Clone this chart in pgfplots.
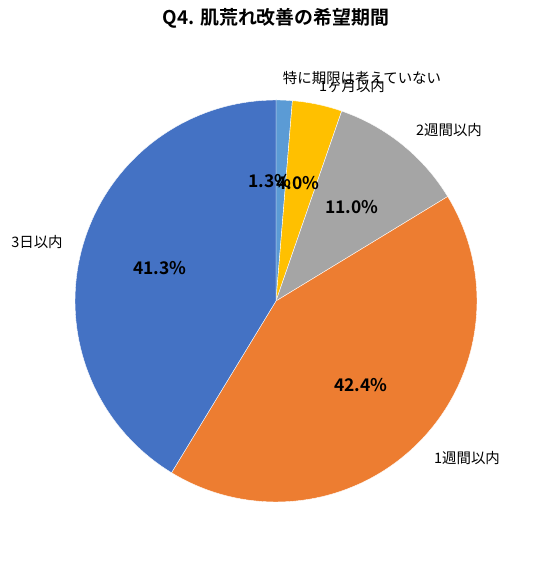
\documentclass[border=0pt]{standalone}
\usepackage{pgfplots}
\pgfplotsset{compat=1.18}
\usepackage{fontspec}
\setmainfont{Noto Sans CJK JP}
\newfontfamily\jpbold{Noto Sans CJK JP}[BoldFont={* Bold}]
\definecolor{cBlue}{HTML}{4472C4}
\definecolor{cOrange}{HTML}{ED7D31}
\definecolor{cGray}{HTML}{A5A5A5}
\definecolor{cYellow}{HTML}{FFC000}
\definecolor{cLBlue}{HTML}{5B9BD5}
% pie center (pixels) and radius
\def\cx{276}\def\cy{260}\def\rr{201}
\begin{document}
\begin{tikzpicture}
\begin{axis}[
  x=1bp, y=1bp,
  xmin=0, xmax=536, ymin=0, ymax=561,
  hide axis, clip=false,
  samples=60,
]
\path (axis cs:0,0) rectangle (axis cs:536,561);
% slices: percent ranges (cumulative, clockwise from 12 o'clock)
% 特に期限は考えていない 1.3 ; 1ヶ月以内 4.0 ; 2週間以内 11.0 ; 1週間以内 42.4 ; 3日以内 41.3
\addplot[fill=cLBlue, draw=white, line width=0.4pt, domain=0:1.3, samples=5]
  ({\cx+\rr*cos(90-3.6*x)},{\cy+\rr*sin(90-3.6*x)}) -- (axis cs:\cx,\cy) -- cycle;
\addplot[fill=cYellow, draw=white, line width=0.4pt, domain=1.3:5.3, samples=10]
  ({\cx+\rr*cos(90-3.6*x)},{\cy+\rr*sin(90-3.6*x)}) -- (axis cs:\cx,\cy) -- cycle;
\addplot[fill=cGray, draw=white, line width=0.4pt, domain=5.3:16.3, samples=20]
  ({\cx+\rr*cos(90-3.6*x)},{\cy+\rr*sin(90-3.6*x)}) -- (axis cs:\cx,\cy) -- cycle;
\addplot[fill=cOrange, draw=white, line width=0.4pt, domain=16.3:58.7, samples=80]
  ({\cx+\rr*cos(90-3.6*x)},{\cy+\rr*sin(90-3.6*x)}) -- (axis cs:\cx,\cy) -- cycle;
\addplot[fill=cBlue, draw=white, line width=0.4pt, domain=58.7:100, samples=80]
  ({\cx+\rr*cos(90-3.6*x)},{\cy+\rr*sin(90-3.6*x)}) -- (axis cs:\cx,\cy) -- cycle;
% title
\node[font=\jpbold\bfseries\fontsize{19}{22}\selectfont] at (axis cs:276,543) {Q4. 肌荒れ改善の希望期間};
% percent labels
\begin{scope}[every node/.style={font=\jpbold\bfseries\fontsize{17.5}{20}\selectfont}]
\node at (axis cs:270,380) {1.3\%};
\node at (axis cs:298,378) {4.0\%};
\node at (axis cs:352,354) {11.0\%};
\node at (axis cs:160,293) {41.3\%};
\node at (axis cs:361,176) {42.4\%};
\end{scope}
% category labels
\begin{scope}[every node/.style={font=\fontsize{14.5}{17}\selectfont}]
\node at (axis cs:362,483) {特に期限は考えていない};
\node at (axis cs:352,475) {1ヶ月以内};
\node at (axis cs:449,431) {2週間以内};
\node at (axis cs:467,103) {1週間以内};
\node at (axis cs:37,319) {3日以内};
\end{scope}
\end{axis}
\end{tikzpicture}
\end{document}
